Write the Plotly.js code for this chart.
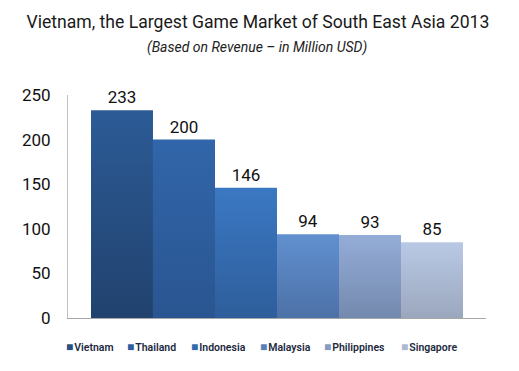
<!DOCTYPE html>
<html>
<head>
<meta charset="utf-8">
<script src="https://cdn.plot.ly/plotly-3.0.1.min.js"></script>
<style>html,body{margin:0;padding:0;background:#fff}#chart{width:519px;height:371px}</style>
</head>
<body>
<div id="chart"></div>
<script>
const countries = ["Vietnam", "Thailand", "Indonesia", "Malaysia", "Philippines", "Singapore"];
const revenue = [233, 200, 146, 94, 93, 85];
const topColors = ["#2c5b96", "#3166aa", "#3b78c3", "#6190d0", "#94add7", "#b9c9e5"];
const bottomColors = ["#21426e", "#2a5591", "#2e5e9b", "#4c71a7", "#7489ae", "#9ba7bd"];
const midColors = ["#274f82", "#2e5d9e", "#346baf", "#5680bb", "#849bc2", "#aab8d1"];
const yTicks = [0, 50, 100, 150, 200, 250];
const legendX = [64, 125, 189, 258, 322, 399];

const traces = countries.map((c, i) => ({
  type: "bar",
  x: ["2013"],
  y: [revenue[i]],
  name: c,
  marker: {color: midColors[i], line: {width: 0}},
  text: [String(revenue[i])],
  textposition: "outside",
  textfont: {family: "Roboto", size: 17, color: "#111"},
  cliponaxis: false,
  hoverinfo: "none"
}));

const annotations = [{
  text: "<i>(Based on Revenue – in Million USD)</i>",
  xref: "paper", yref: "paper", x: 0.452, y: 1.215,
  xanchor: "center", yanchor: "middle", showarrow: false,
  font: {family: "Roboto", size: 14, color: "#222"}
}];
countries.forEach((c, i) => {
  annotations.push({
    text: "<span style='color:" + midColors[i] + ";font-size:12px'>■</span><span style='font-size:4px'> </span>" + c,
    xref: "paper", yref: "paper",
    x: (legendX[i] - 68) / 418, y: -0.13,
    xanchor: "left", yanchor: "middle", showarrow: false,
    font: {family: "Roboto", size: 10.5, color: "#1c2940", weight: 600}
  });
});

const layout = {
  width: 519, height: 371,
  margin: {l: 68, r: 33, t: 95, b: 53},
  paper_bgcolor: "#fff", plot_bgcolor: "#fff",
  title: {text: "Vietnam, the Largest Game Market of South East Asia 2013",
    font: {family: "Roboto", size: 17.6, color: "#1a1a1a"},
    x: 0.497, xanchor: "center", y: 1 - 22 / 371, yanchor: "middle"},
  showlegend: false,
  barmode: "group", bargap: 0.11, bargroupgap: 0,
  xaxis: {showticklabels: false, showline: true, linecolor: "#a8a8a8", linewidth: 1,
    ticks: "", showgrid: false, zeroline: false, fixedrange: true},
  yaxis: {range: [0, 250], tickvals: yTicks, showline: true, linecolor: "#c0c0c0", linewidth: 1,
    showgrid: false, zeroline: false, ticks: "", ticklabelstandoff: 13,
    tickfont: {family: "Roboto", size: 17, color: "#111"}},
  annotations: annotations
};

Plotly.newPlot("chart", traces, layout, {staticPlot: true, displayModeBar: false}).then(gd => {
  const svg = gd.querySelector(".main-svg");
  let defs = svg.querySelector("defs");
  const NS = "http://www.w3.org/2000/svg";
  if (!defs) { defs = document.createElementNS(NS, "defs"); svg.insertBefore(defs, svg.firstChild); }
  countries.forEach((c, i) => {
    const g = document.createElementNS(NS, "linearGradient");
    g.setAttribute("id", "bargrad" + i);
    g.setAttribute("x1", "0"); g.setAttribute("y1", "0");
    g.setAttribute("x2", "0"); g.setAttribute("y2", "1");
    const s1 = document.createElementNS(NS, "stop");
    s1.setAttribute("offset", "0"); s1.setAttribute("stop-color", topColors[i]);
    const s2 = document.createElementNS(NS, "stop");
    s2.setAttribute("offset", "1"); s2.setAttribute("stop-color", bottomColors[i]);
    g.appendChild(s1); g.appendChild(s2); defs.appendChild(g);
  });
  gd.querySelectorAll(".barlayer .trace").forEach((t, i) => {
    t.querySelectorAll(".point path").forEach(p => { p.style.fill = "url(#bargrad" + i + ")"; });
  });
});
</script>
</body>
</html>
